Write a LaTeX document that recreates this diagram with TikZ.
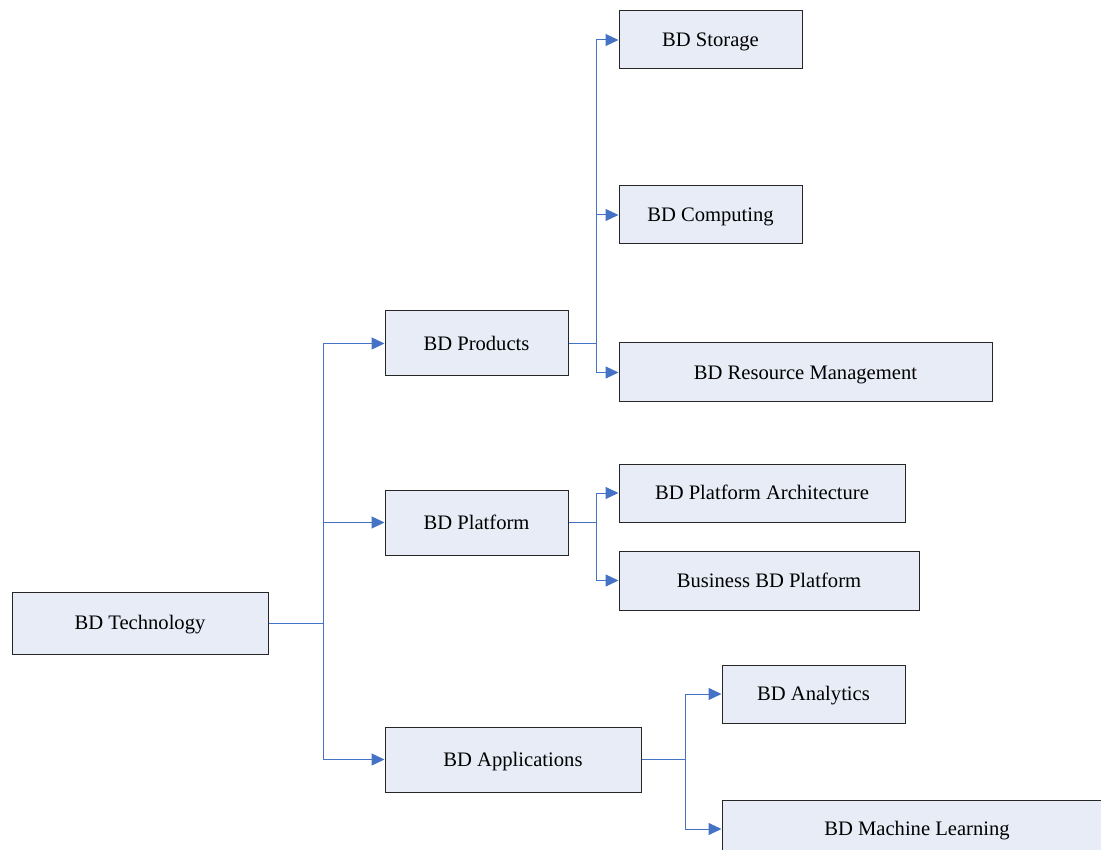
\documentclass[tikz,border=0pt]{standalone}
\usepackage{fontspec}
\setmainfont{Liberation Serif}
\usetikzlibrary{arrows.meta}
\definecolor{boxfill}{HTML}{E7ECF6}
\definecolor{conncol}{HTML}{4472C4}
\begin{document}
\begin{tikzpicture}[x=1pt,y=-1pt,
  box/.style={draw=black!85, line width=1pt, fill=boxfill, inner sep=0pt, text height=13.5pt, text depth=0pt, font=\fontsize{20.6}{24}\selectfont},
  conn/.style={draw=conncol, line width=1pt, -{Triangle[length=13pt,width=12pt]}},
  trunk/.style={draw=conncol, line width=1pt}]
\useasboundingbox (0,0) rectangle (1101,850);
\clip (0,0) rectangle (1101,850);
\node[box, minimum width=256pt, minimum height=62pt] (tech) at (140,623) {BD Technology};
\node[box, minimum width=183pt, minimum height=65pt] (prod) at (476.5,343.5) {BD Products};
\node[box, minimum width=183pt, minimum height=65pt] (plat) at (476.5,522.5) {BD Platform};
\node[box, minimum width=256pt, minimum height=65pt] (appl) at (513,759.5) {BD Applications};
\node[box, minimum width=183pt, minimum height=58pt] (stor) at (710.5,40) {BD Storage};
\node[box, minimum width=183pt, minimum height=58pt] (comp) at (710.5,215) {BD Computing};
\node[box, minimum width=373pt, minimum height=59pt] (resm) at (805.5,372.5) {BD Resource Management};
\node[box, minimum width=286pt, minimum height=58pt] (parc) at (762,493) {BD Platform Architecture};
\node[box, minimum width=300pt, minimum height=59pt] (bbdp) at (769,580.5) {Business BD Platform};
\node[box, minimum width=183pt, minimum height=58pt] (anal) at (813.5,694) {BD Analytics};
\node[box, minimum width=390pt, minimum height=58pt] (mach) at (917,829) {BD Machine Learning};
\coordinate (j1) at (323,623);
\coordinate (j2) at (596,343.5);
\coordinate (j3) at (596,522.5);
\coordinate (j4) at (685,759.5);
\draw[trunk] (tech.east) -- (j1);
\draw[conn] (j1) |- (prod.west);
\draw[conn] (j1) |- (plat.west);
\draw[conn] (j1) |- (appl.west);
\draw[trunk] (prod.east) -- (j2);
\draw[conn] (j2) |- (stor.west);
\draw[conn] (j2) |- (comp.west);
\draw[conn] (j2) |- (resm.west);
\draw[trunk] (plat.east) -- (j3);
\draw[conn] (j3) |- (parc.west);
\draw[conn] (j3) |- (bbdp.west);
\draw[trunk] (appl.east) -- (j4);
\draw[conn] (j4) |- (anal.west);
\draw[conn] (j4) |- (mach.west);
\end{tikzpicture}
\end{document}
